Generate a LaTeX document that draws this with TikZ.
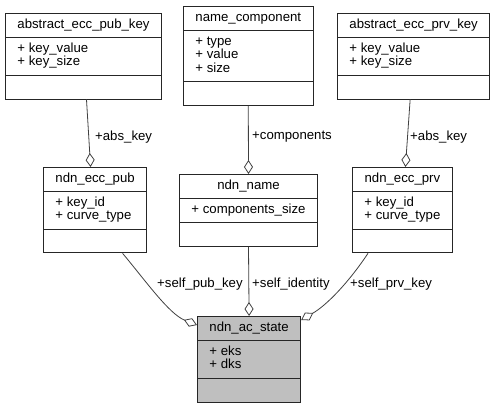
\documentclass[tikz,border=0pt]{standalone}
\usepackage{fontspec}
\setmainfont{Liberation Sans}
\usetikzlibrary{positioning, calc, shapes.multipart, arrows.meta}

\tikzset{
    classbox/.style={draw=black!85, line width=0.9pt, fill=white, anchor=north west,
        rectangle split, rectangle split parts=3,
        rectangle split part align={center,left,left},
        inner xsep=12pt, inner ysep=4.75pt,
        font=\fontsize{13.2}{13.5}\selectfont},
    aggr/.style={draw=black!75, line width=0.8pt, -{Diamond[open, length=14pt, width=9pt]}},
    role/.style={inner sep=0pt, anchor=west, font=\fontsize{13.2}{13.5}\selectfont}
}
\newcommand{\attrs}[1]{\begin{tabular}{@{}l@{}}#1\end{tabular}}

\begin{document}
\begin{tikzpicture}[x=1pt, y=-1pt]
    \useasboundingbox (0,0) rectangle (493,407);

    \node[classbox] (pubkey) at (5,13) {abstract\_ecc\_pub\_key\strut
        \nodepart{two}\attrs{+ key\_value\\+ key\_size}
        \nodepart{three}\strut};
    \node[classbox] (namecomp) at (183,6) {name\_component\strut
        \nodepart{two}\attrs{+ type\\+ value\\+ size}
        \nodepart{three}\strut};
    \node[classbox] (prvkey) at (337,13) {abstract\_ecc\_prv\_key\strut
        \nodepart{two}\attrs{+ key\_value\\+ key\_size}
        \nodepart{three}\strut};

    \node[classbox] (eccpub) at (43,167) {ndn\_ecc\_pub\strut
        \nodepart{two}\attrs{+ key\_id\\+ curve\_type}
        \nodepart{three}\strut};
    \node[classbox] (ndnname) at (179,174) {ndn\_name\strut
        \nodepart{two}\attrs{+ components\_size}
        \nodepart{three}\strut};
    \node[classbox] (eccprv) at (352,167) {ndn\_ecc\_prv\strut
        \nodepart{two}\attrs{+ key\_id\\+ curve\_type}
        \nodepart{three}\strut};

    \node[classbox, fill=black!25] (acstate) at (197,316) {ndn\_ac\_state\strut
        \nodepart{two}\attrs{+ eks\\+ dks}
        \nodepart{three}\strut};

    % aggregations
    \draw[aggr] ([xshift=3pt]pubkey.south) -- ([xshift=-4.5pt]eccpub.north);
    \draw[aggr] (namecomp.south) -- (ndnname.north);
    \draw[aggr] ([xshift=-3.5pt]prvkey.south) -- ([xshift=3pt]eccprv.north);
    \draw[aggr] ([xshift=27.5pt]eccpub.south) .. controls +(22.5,26.8) and +(-28,-11) .. ([yshift=-9pt]acstate.north west);
    \draw[aggr] (ndnname.south) -- (acstate.north);
    \draw[aggr] ([xshift=16pt]eccprv.south west) .. controls +(-19.4,29.1) and +(25.9,-15.1) .. ([yshift=-4pt]acstate.north east);

    % roles
    \node[role] (pubrole) at (95,137) {+abs\_key};
    \node[role] (comprole) at (252,137) {+components};
    \node[role] (prvrole) at (410,137) {+abs\_key};
    \node[role] (selfpub) at (157,284.5) {+self\_pub\_key};
    \node[role] (selfid) at (252,284.5) {+self\_identity};
    \node[role] (selfprv) at (350,284.5) {+self\_prv\_key};

\end{tikzpicture}
\end{document}
